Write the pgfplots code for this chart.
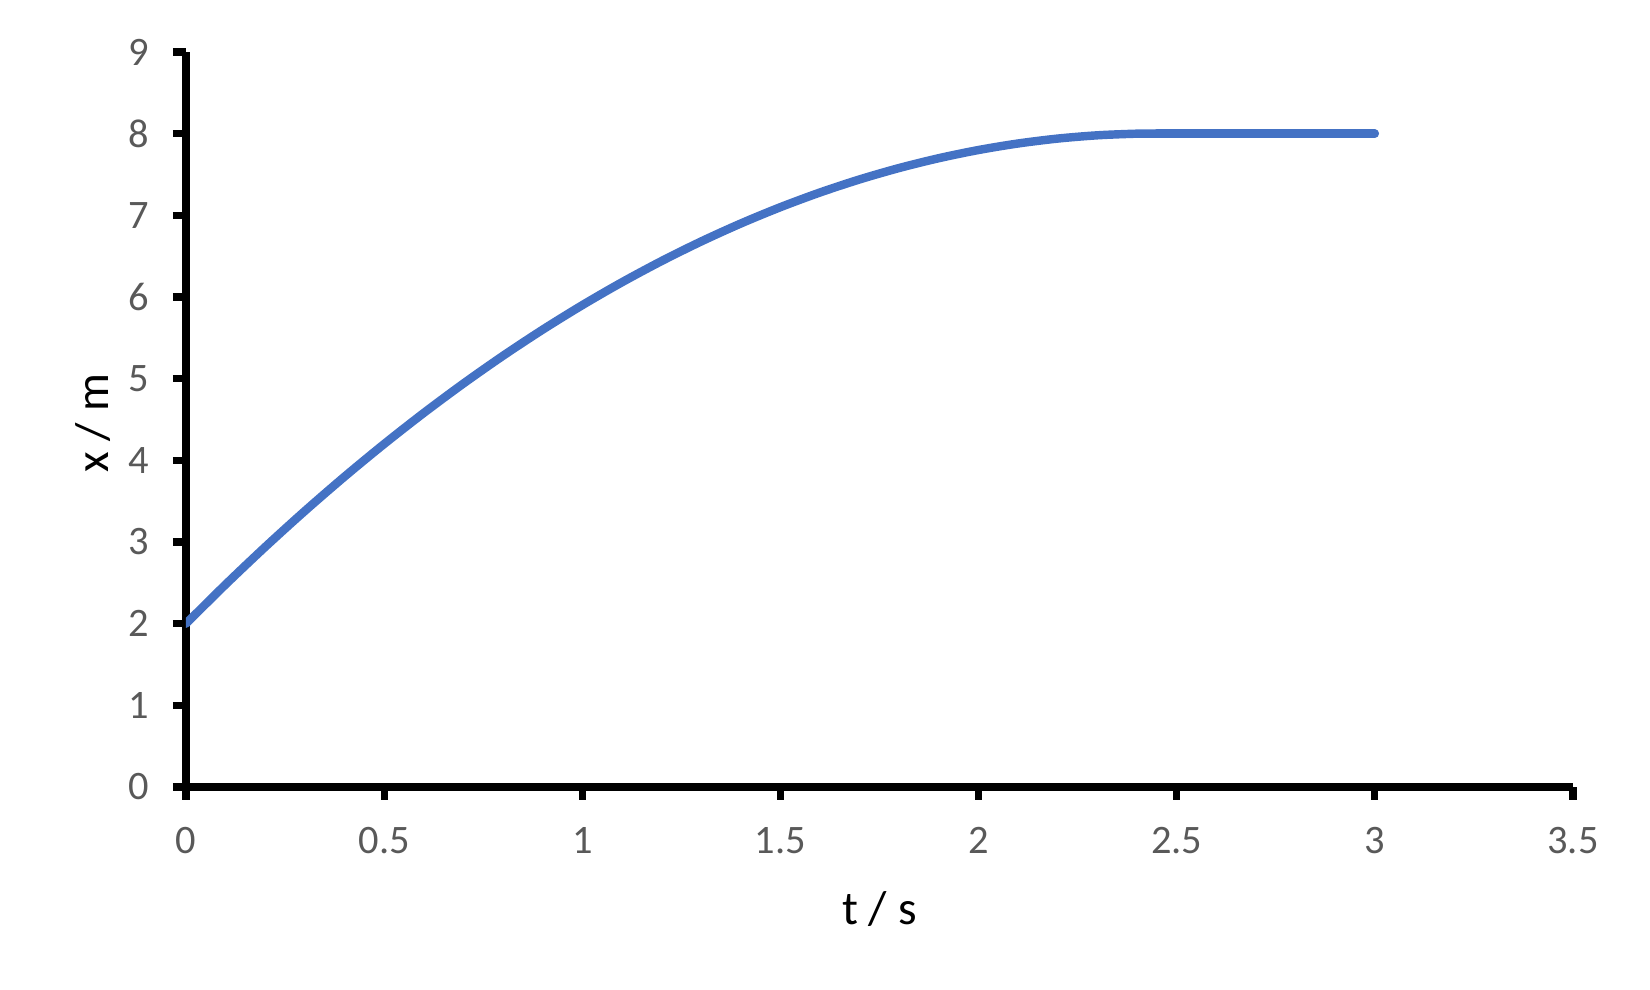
\documentclass[border=0pt]{standalone}
\usepackage{fontspec}
\setmainfont{Carlito}
\usepackage{pgfplots}
\pgfplotsset{compat=1.18}
\definecolor{curveblue}{RGB}{68,114,196}
\definecolor{ticktext}{RGB}{89,89,89}

\begin{document}
\begin{tikzpicture}
\useasboundingbox (-1.86cm,-2.03cm) rectangle (14.64cm,7.87cm);
\begin{axis}[
  at={(0,0)}, anchor=south west,
  scale only axis, width=13.87cm, height=7.35cm,
  xmin=0, xmax=3.5, ymin=0, ymax=9,
  xtick distance=0.5, ytick distance=1,
  axis x line=bottom, axis y line=left,
  axis line style={-, line width=2.5pt, black},
  tick style={line width=2pt, black},
  tick align=outside, major tick length=0.13cm,
  /pgf/number format/assume math mode=true,
  tick label style={font=\fontsize{11.5}{13}\selectfont, text=ticktext},
  xticklabel style={yshift=-0.15cm},
  yticklabel style={xshift=-0.12cm},
  xlabel={t / s}, ylabel={x / m},
  label style={font=\fontsize{13.5}{15}\selectfont},
  xlabel style={at={(axis description cs:0.5,0)}, anchor=center, yshift=-1.22cm},
  ylabel style={at={(axis description cs:0,0.495)}, anchor=center, rotate=0, yshift=0.93cm},
]
\addplot[curveblue, line width=2.4pt, line cap=round, line join=round, smooth] coordinates {
 (0,2.00) (0.1,2.48) (0.2,2.94) (0.3,3.38) (0.4,3.80) (0.5,4.20)
 (0.6,4.58) (0.7,4.94) (0.8,5.28) (0.9,5.60) (1.0,5.90)
 (1.1,6.18) (1.2,6.44) (1.3,6.68) (1.4,6.90) (1.5,7.10)
 (1.6,7.28) (1.7,7.44) (1.8,7.58) (1.9,7.70) (2.0,7.80)
 (2.1,7.88) (2.2,7.94) (2.3,7.98) (2.4,8.00) (2.45,8.00)
};
\addplot[curveblue, line width=2.4pt, line cap=round] coordinates {
 (2.45,8.00) (3.0,8.00)
};
\end{axis}
\end{tikzpicture}
\end{document}
